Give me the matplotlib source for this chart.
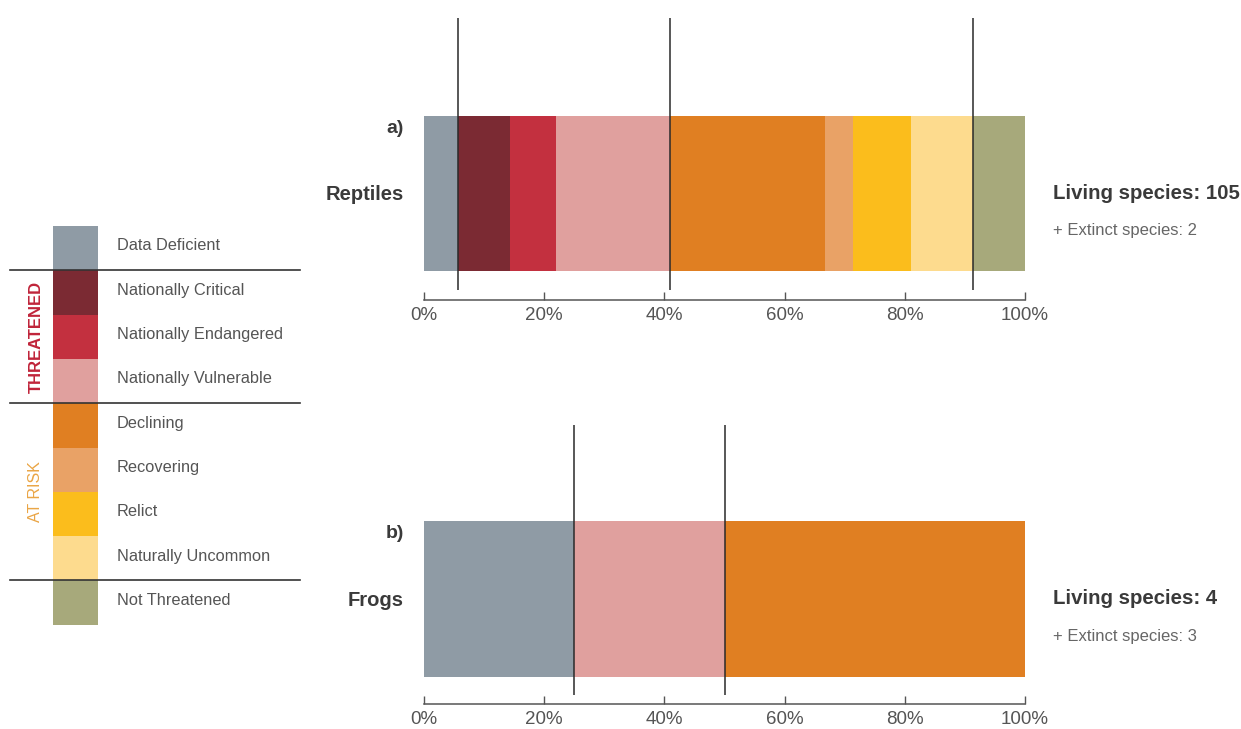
import numpy as np
import matplotlib
matplotlib.use("Agg")
import matplotlib.pyplot as plt

plt.rcParams['font.family'] = ['Liberation Sans', 'DejaVu Sans']

# ----- Data ----- #
categories = ['Data Deficient', 'Nationally Critical', 'Nationally Endangered',
              'Nationally Vulnerable', 'Declining', 'Recovering', 'Relict',
              'Naturally Uncommon', 'Not Threatened']
colors = ['#8f9ba5', '#7b2a33', '#c3303f', '#e0a09e', '#e07f22',
          '#e9a266', '#fbbd1c', '#fddb8e', '#a7a97b']
group_ends = [0, 3, 7]  # last category before each group split

reptiles = [6, 9, 8, 20, 27, 5, 10, 11, 9]   # species counts, 105 living
frogs = [1, 0, 0, 1, 2, 0, 0, 0, 0]          # 4 living

panels = [('a)', 'Reptiles', reptiles, 105, 2),
          ('b)', 'Frogs', frogs, 4, 3)]

ticks = [0, 20, 40, 60, 80, 100]
tick_labels = ['0%', '20%', '40%', '60%', '80%', '100%']

W, H = 1241, 729
fig = plt.figure(figsize=(W / 100, H / 100), dpi=100)

# overlay axes in pixel coordinates for texts and legend
ov = fig.add_axes([0, 0, 1, 1])
ov.set_xlim(0, W)
ov.set_ylim(H, 0)
ov.axis('off')

# ----- Panels ----- #
x0, x1 = 424, 1025
layout = [(300, 193.5, 155, 18, 290), (704, 599, 156, 425, 695)]  # spine, center, bar px, line top, line bottom

for (tag, name, counts, living, extinct), (spine_px, cen, bar_px, ltop, lbot) in zip(panels, layout):
    counts = np.array(counts, dtype=float)
    pct = counts / counts.sum() * 100
    left = np.concatenate([[0], np.cumsum(pct)[:-1]])

    ylo = -0.5 - (spine_px - (cen + bar_px / 2)) / bar_px
    yhi = 1.2
    top_px = cen - yhi * bar_px
    ax = fig.add_axes([x0 / W, 1 - spine_px / H, (x1 - x0) / W, (spine_px - top_px) / H])
    ax.barh(0, pct, left=left, height=1, color=colors, linewidth=0, zorder=1)

    # group boundary lines
    cum = np.cumsum(pct)
    for g in group_ends:
        b = cum[g]
        if 0 < b < 99.99:
            ax.plot([b, b], [(cen - ltop) / bar_px, -(lbot - cen) / bar_px],
                    color='#2a2a2a', lw=1.1, zorder=3, solid_capstyle='butt')

    ax.set_xlim(0, 100)
    ax.set_ylim(ylo, yhi)
    for s in ['top', 'left', 'right']:
        ax.spines[s].set_visible(False)
    ax.spines['bottom'].set_color('#555555')
    ax.spines['bottom'].set_linewidth(1.1)
    ax.set_yticks([])
    ax.set_xticks(ticks)
    ax.set_xticklabels(tick_labels)
    ax.tick_params(axis='x', direction='in', length=6, width=1, color='#555555',
                   labelsize=13.5, labelcolor='#555555', pad=5)
    ax.patch.set_alpha(0)

    ov.text(404, cen - 65, tag, ha='right', va='center', fontsize=14,
            fontweight='bold', color='#3a3a3a')
    ov.text(404, cen + 1, name, ha='right', va='center', fontsize=14.5,
            fontweight='bold', color='#3a3a3a')
    ov.text(1053, cen, f'Living species: {living}', ha='left', va='center',
            fontsize=14.7, fontweight='bold', color='#3a3a3a')
    ov.text(1053, cen + 37, f'+ Extinct species: {extinct}', ha='left', va='center',
            fontsize=12, color='#666666')

# ----- Legend ----- #
lx, ly, lw, lh = 53, 226, 45, 44.3
for i, (cat, col) in enumerate(zip(categories, colors)):
    ov.bar(lx + lw / 2, lh, width=lw, bottom=ly + i * lh, color=col, linewidth=0)
    ov.text(117, ly + (i + 0.45) * lh, cat, ha='left', va='center',
            fontsize=11.8, color='#555555')

for g in group_ends:
    yy = ly + (g + 1) * lh
    ov.plot([10, 300], [yy, yy], color='#333333', lw=1.2)

ov.text(36, ly + 2.5 * lh, 'THREATENED', rotation=90, ha='center', va='center',
        fontsize=12, fontweight='bold', color='#c0243a')
ov.text(36, ly + 6 * lh, 'AT RISK', rotation=90, ha='center', va='center',
        fontsize=11.5, color='#eaa545')

fig.savefig('out.png', dpi=100)
